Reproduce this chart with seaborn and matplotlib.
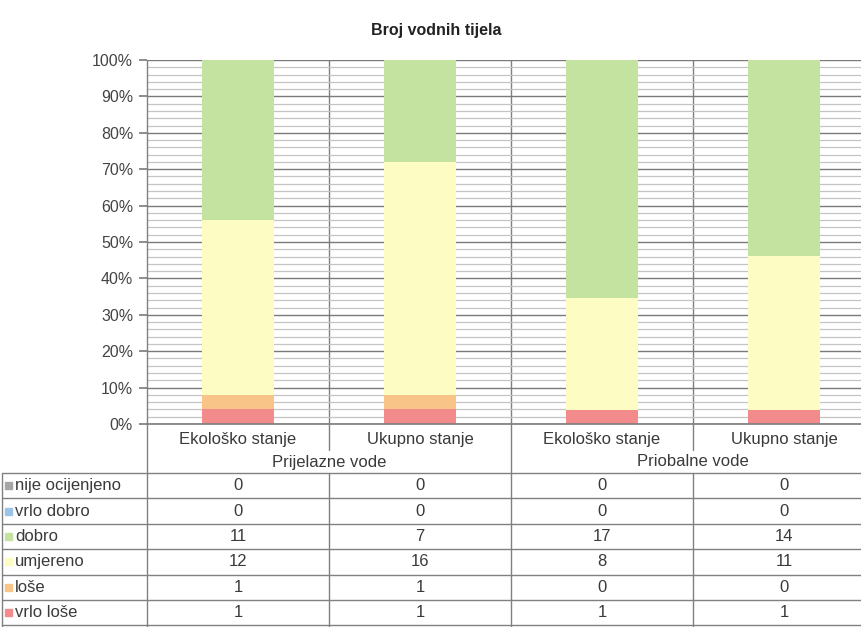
import numpy as np
import pandas as pd
import seaborn as sns
import matplotlib.pyplot as plt
from matplotlib.lines import Line2D
from matplotlib.patches import Rectangle

# podaci
stupci = ["Ekološko stanje", "Ukupno stanje", "Ekološko stanje", "Ukupno stanje"]
skupine = ["Prijelazne vode", "Priobalne vode"]
razredi = ["nije ocijenjeno", "vrlo dobro", "dobro", "umjereno", "loše", "vrlo loše"]
nije_ocijenjeno = [0, 0, 0, 0]
vrlo_dobro = [0, 0, 0, 0]
dobro = [11, 7, 17, 14]
umjereno = [12, 16, 8, 11]
lose = [1, 1, 0, 0]
vrlo_lose = [1, 1, 1, 1]
boje = ["#a6a6a6", "#9dc3e6", "#c5e3a0", "#fdfcc2", "#f8c487", "#f38a8c"]
postotci = np.arange(0, 101, 10)

vrijednosti = [nije_ocijenjeno, vrlo_dobro, dobro, umjereno, lose, vrlo_lose]
redovi = []
for razred, niz in zip(razredi, vrijednosti):
    for i, v in enumerate(niz):
        redovi.append({"stupac": i, "razred": razred, "broj": v})
df = pd.DataFrame(redovi)

sns.set_theme(style="white")
plt.rcParams['font.family'] = ['Liberation Sans', 'DejaVu Sans']

W, H = 861, 627
fig = plt.figure(figsize=(W / 100, H / 100), dpi=100)

def fx(px):
    return px / W

def fy(py):
    return 1 - py / H

x0, dx = 147, 182
top, bot = 60, 424
ax = fig.add_axes([fx(x0), fy(bot), (4 * dx) / W, (bot - top) / H])

sns.histplot(data=df, x="stupac", weights="broj", hue="razred", hue_order=razredi,
             multiple="fill", discrete=True, shrink=0.4,
             palette=dict(zip(razredi, boje)), alpha=1, linewidth=0,
             legend=False, ax=ax)

ax.set_xlim(-0.5, 3.5)
ax.set_ylim(0, 1)
ax.set_axisbelow(True)
ax.set_yticks(postotci / 100, [f"{p}%" for p in postotci])
ax.set_yticks(np.arange(0, 1.001, 0.02), minor=True)
ax.grid(axis='y', which='minor', color='#c4c4c4', lw=0.9)
ax.grid(axis='y', which='major', color='#7a7a7a', lw=1.0)
ax.grid(axis='x', visible=False)
ax.tick_params(axis='y', which='major', length=6, color='#808080', labelsize=11.5,
               labelcolor='#444444', pad=4, direction='out', left=True)
ax.tick_params(axis='y', which='minor', length=0)
ax.set_xticks(range(len(stupci)), stupci)
ax.tick_params(axis='x', length=0, labelsize=12, labelcolor='#3a3a3a', pad=6)
ax.set_xlabel("")
ax.set_ylabel("")
for s in ['top', 'right']:
    ax.spines[s].set_visible(False)
ax.spines['left'].set_visible(False)
ax.spines['bottom'].set_color('#808080')
for xv in [0.5, 1.5, 2.5]:
    ax.axvline(xv, color='#808080', lw=1.0, zorder=0.5)

fig.text(fx(436), fy(30), "Broj vodnih tijela", ha='center', va='center',
         fontsize=11.5, fontweight='bold', color='#222222')

# okvir i linije tablice
crta = dict(color='#808080', lw=1.0)
fig.add_artist(Line2D([fx(x0), fx(x0)], [fy(top), fy(H)], **crta))
for i in [1, 3]:
    xp = x0 + i * dx
    fig.add_artist(Line2D([fx(xp), fx(xp)], [fy(bot), fy(450)], **crta))
    fig.add_artist(Line2D([fx(xp), fx(xp)], [fy(473), fy(H)], **crta))
fig.add_artist(Line2D([fx(x0 + 2 * dx)] * 2, [fy(bot), fy(H)], **crta))

for i, skupina in enumerate(skupine):
    fig.text(fx(x0 + (2 * i + 1) * dx), fy(462), skupina, ha='center', va='center',
             fontsize=12, color='#3a3a3a')

t0, rh = 473, 25.4
fig.add_artist(Line2D([fx(2), fx(2)], [fy(t0), fy(H)], **crta))
for k in range(len(razredi) + 1):
    yp = t0 + k * rh
    fig.add_artist(Line2D([fx(2), fx(W)], [fy(yp), fy(yp)], **crta))

for k, (razred, niz, boja) in enumerate(zip(razredi, vrijednosti, boje)):
    yc = t0 + (k + 0.5) * rh
    fig.add_artist(Rectangle((fx(5), fy(yc + 3.5)), 7 / W, 7 / H, color=boja,
                             transform=fig.transFigure))
    fig.text(fx(15), fy(yc), razred, ha='left', va='center', fontsize=12,
             color='#3a3a3a')
    for i, v in enumerate(niz):
        fig.text(fx(x0 + (i + 0.5) * dx), fy(yc), str(v), ha='center', va='center',
                 fontsize=12, color='#3a3a3a')

fig.savefig("out.png", dpi=100)
